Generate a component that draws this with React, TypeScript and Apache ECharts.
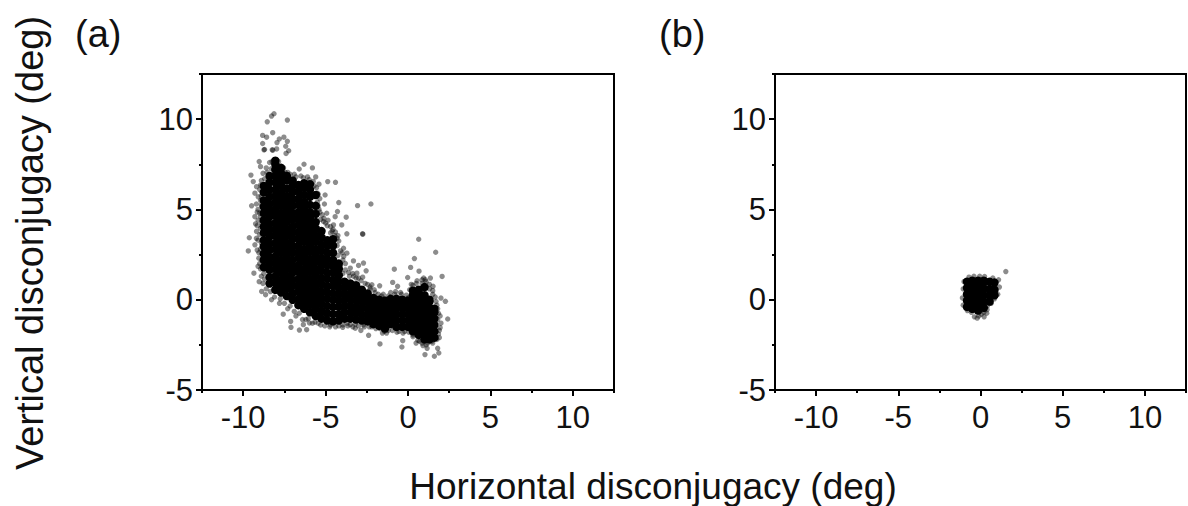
import React, { useEffect, useRef } from "react";
import * as echarts from "echarts";

const majorTicks = [-10, -5, 0, 5, 10];
const minorTicksX = [-12.5, -7.5, -2.5, 2.5, 7.5, 12.5];
const yMajorTicks = [-5, 0, 5, 10];
const yMinorTicks = [-2.5, 2.5, 7.5, 12.5];

// dense body of panel (a): [x, [y...]]
const coreA: [number, number[]][] = [
  [-8.75, [1.8, 2.2, 2.55, 2.95, 3.3, 3.7, 4.05, 4.4, 4.8, 5.15, 5.5, 5.95, 6.3]],
  [-8.4, [0.9, 1.25, 1.65, 2.0, 2.35, 2.75, 3.1, 3.5, 3.85, 4.2, 4.6, 4.95, 5.3, 5.7, 6.1, 6.5, 6.85]],
  [-8.05, [0.55, 0.95, 1.3, 1.7, 2.05, 2.4, 2.8, 3.15, 3.55, 3.9, 4.25, 4.65, 5.0, 5.4, 5.75, 6.1, 6.5, 6.85, 7.2, 7.5, 7.7]],
  [-7.7, [0.4, 0.75, 1.1, 1.5, 1.85, 2.2, 2.6, 2.95, 3.35, 3.7, 4.05, 4.45, 4.8, 5.2, 5.55, 5.9, 6.3, 6.65, 7.0, 7.3]],
  [-7.35, [0.2, 0.6, 0.95, 1.3, 1.7, 2.05, 2.45, 2.8, 3.15, 3.55, 3.9, 4.3, 4.65, 5.0, 5.4, 5.75, 6.15, 6.6, 6.85]],
  [-7.0, [0.0, 0.35, 0.75, 1.1, 1.5, 1.85, 2.2, 2.6, 2.95, 3.35, 3.7, 4.05, 4.45, 4.8, 5.2, 5.55, 5.95, 6.3, 6.6]],
  [-6.65, [-0.3, 0.05, 0.45, 0.8, 1.15, 1.55, 1.9, 2.3, 2.65, 3.0, 3.4, 3.75, 4.15, 4.5, 4.85, 5.25, 5.6, 6.0, 6.35]],
  [-6.3, [-0.5, -0.15, 0.25, 0.6, 0.95, 1.35, 1.7, 2.1, 2.45, 2.8, 3.2, 3.55, 3.95, 4.3, 4.65, 5.05, 5.4, 5.8, 6.2, 6.45]],
  [-5.95, [-0.7, -0.3, 0.05, 0.4, 0.8, 1.15, 1.55, 1.9, 2.25, 2.65, 3.0, 3.4, 3.75, 4.1, 4.5, 4.85, 5.25, 5.7, 6.1, 6.4]],
  [-5.6, [-0.9, -0.5, -0.15, 0.25, 0.6, 0.95, 1.35, 1.7, 2.1, 2.45, 2.8, 3.2, 3.55, 3.95, 4.3, 4.75, 5.2, 5.8]],
  [-5.25, [-1.05, -0.65, -0.25, 0.1, 0.45, 0.85, 1.2, 1.6, 1.95, 2.3, 2.7, 3.05, 3.45, 3.8]],
  [-4.9, [-1.15, -0.75, -0.35, 0.05, 0.4, 0.75, 1.15, 1.5, 1.9, 2.25, 2.6, 3.0, 3.3]],
  [-4.55, [-1.2, -0.8, -0.4, 0.0, 0.35, 0.75, 1.1, 1.5, 1.85, 2.2, 2.6, 3.0, 3.35]],
  [-4.2, [-1.15, -0.8, -0.4, -0.05, 0.3, 0.65, 1.0, 1.35, 1.7, 2.0]],
  [-3.85, [-1.05, -0.7, -0.35, 0.0, 0.35, 0.7, 1.0]],
  [-3.5, [-1.05, -0.7, -0.35, 0.0, 0.3, 0.65, 0.9]],
  [-3.15, [-1.1, -0.75, -0.4, -0.05, 0.3, 0.6, 0.8]],
  [-2.8, [-1.15, -0.8, -0.45, -0.1, 0.2, 0.55]],
  [-2.45, [-1.2, -0.85, -0.5, -0.15, 0.15, 0.35]],
  [-2.1, [-1.35, -1.0, -0.65, -0.3, 0.0, 0.1]],
  [-1.75, [-1.45, -1.1, -0.75, -0.4, -0.1, 0.0]],
  [-1.4, [-1.6, -1.25, -0.9, -0.55, -0.25, -0.05]],
  [-1.05, [-1.35, -1.0, -0.65, -0.3, 0.05]],
  [-0.7, [-1.5, -1.15, -0.8, -0.45, -0.15, 0.05]],
  [-0.35, [-1.5, -1.15, -0.8, -0.45, -0.15, 0.0]],
  [0.0, [-1.5, -1.15, -0.8, -0.45, -0.15, -0.05]],
  [0.3, [-1.75, -1.4, -1.05, -0.7, -0.35, 0.0, 0.25, 0.5]],
  [0.65, [-1.95, -1.6, -1.25, -0.9, -0.55, -0.2, 0.1, 0.35, 0.55]],
  [1.0, [-2.2, -1.85, -1.5, -1.15, -0.8, -0.45, -0.1, 0.25, 0.7]],
  [1.3, [-2.2, -1.85, -1.5, -1.15, -0.8, -0.45, -0.1, 0.0]],
  [1.6, [-2.1, -1.75, -1.4, -1.05, -0.7, -0.5]],
];

// individually visible translucent dots of panel (a)
const scatterA: [number, number][] = [
  [-8.13, 10.3], [-8.28, 10.17], [-8.54, 9.85], [-7.32, 9.95], [-8.82, 9.1], [-8.58, 9.0], [-8.21, 9.25], [-7.81, 8.9], [-7.53, 9.0],
  [-7.32, 8.77], [-7.95, 8.7], [-7.42, 8.5], [-8.74, 8.3], [-8.7, 8.32], [-8.24, 8.3], [-8.2, 8.28], [-8.82, 8.65], [-7.24, 8.25], [-7.4, 8.1], [-7.97, 8.35],
  [-9.03, 7.65], [-8.95, 7.37], [-9.53, 6.9], [-9.39, 6.54], [-9.19, 6.26], [-9.29, 5.9], [-9.49, 5.2], [-9.09, 5.7], [-9.29, 4.6],
  [-9.19, 3.78], [-9.63, 3.43], [-9.69, 2.7], [-9.29, 3.04], [-9.35, 1.47], [-9.03, 1.0], [-8.88, 0.46], [-8.64, 0.28], [-8.28, 0.0],
  [-7.57, -0.8], [-7.12, -1.2], [-7.1, -1.53], [-6.59, -1.68], [-6.15, -1.66], [-6.35, -1.38], [-5.98, -1.29], [-3.96, -1.53], [-3.5, -1.38],
  [-3.2, -1.58], [-2.86, -1.7], [-2.39, -1.97], [-1.7, -2.45], [-1.44, -1.75], [-0.67, -1.8], [-0.32, -2.27], [-0.37, -2.62], [0.49, -2.4],
  [0.91, -2.54], [1.16, -2.69], [1.03, -3.04], [1.6, -3.13], [1.87, -2.95], [1.8, -2.69], [2.41, -1.07], [2.27, -0.09], [2.0, 0.09], [2.07, 1.29],
  [1.68, 2.63], [0.65, 3.35], [0.39, 2.28], [0.16, 1.79], [-0.83, 1.69], [-0.02, 1.23], [0.67, 1.58], [-0.93, 0.96], [-0.63, 0.74], [0.95, 1.2],
  [1.36, 1.2], [1.52, 0.74], [-3.06, 5.21], [-2.25, 5.3], [-2.76, 3.65], [-2.74, 3.63], [-4.4, 6.5], [-4.87, 6.54], [-6.31, 7.5], [-5.8, 7.3], [-5.6, 6.8],
  [-6.6, 7.24], [-4.2, 5.38], [-4.28, 4.88], [-5.03, 5.8], [-5.44, 5.84], [-5.07, 5.3], [-5.54, 4.7], [-4.93, 4.79], [-4.42, 4.6], [-3.75, 4.57],
  [-4.02, 4.14], [-3.71, 3.65], [-4.52, 4.14], [-5.13, 4.33], [-5.23, 3.87], [-3.91, 2.85], [-3.71, 2.58], [-3.31, 2.15], [-3.0, 1.9], [-2.7, 2.03],
  [-2.54, 1.6], [-3.1, 1.47], [-2.19, 0.83], [-1.72, 0.77], [-3.5, 1.75], [-3.9, 2.4],
  [-9.0, 2.0], [-9.05, 2.6], [-9.1, 3.3], [-9.15, 4.1], [-9.0, 4.8], [-9.2, 5.3], [-9.0, 6.1], [-8.9, 6.6], [-8.8, 7.0], [-8.6, 7.3], [-8.4, 7.6], [-8.9, 1.3], [-8.8, 0.9],
  [-9.05, 2.3], [-9.0, 3.6], [-9.1, 4.4], [-9.1, 5.0], [-8.95, 5.5], [-8.8, 6.3], [-7.7, 7.4], [-7.3, 7.05], [-6.9, 6.95], [-6.5, 6.85], [-6.1, 6.8], [-5.7, 6.3], [-5.5, 5.9],
  [-7.8, -0.2], [-7.3, -0.5], [-6.8, -0.9], [-6.4, -1.1], [-5.8, -1.3], [-5.3, -1.4], [-4.7, -1.4], [-4.2, -1.45], [-3.7, -1.3], [-3.2, -1.35], [-2.7, -1.4], [-2.2, -1.5],
  [-1.7, -1.6], [-1.2, -1.7], [-0.7, -1.6], [-0.2, -1.75], [0.3, -1.95], [0.7, -2.3], [1.1, -2.5], [1.5, -2.4], [1.9, -2.1], [1.9, -1.7], [2.0, -1.3], [1.95, -0.9], [1.8, -0.5],
  [1.7, -0.1], [1.5, 0.3], [1.3, 0.6], [1.1, 1.0], [0.85, 1.1], [0.5, 0.9], [0.3, 0.8], [-5.4, 5.0], [-5.2, 4.7], [-4.9, 4.1], [-4.6, 3.8], [-4.3, 3.4], [-4.0, 2.6], [-3.8, 2.0],
  [-3.6, 1.5], [-3.3, 1.3], [-3.0, 1.2], [-2.6, 0.9], [-2.3, 0.6], [-2.0, 0.4], [-1.6, 0.2], [-1.2, 0.2], [-0.8, 0.3], [-0.4, 0.3], [0.0, 0.1], [-5.5, 5.4],
  [-8.95, 1.7], [-8.85, 2.15], [-8.95, 2.8], [-8.9, 3.15], [-8.95, 3.95], [-8.9, 4.25], [-8.95, 4.6], [-8.9, 5.25], [-8.9, 5.75], [-8.95, 6.35], [-8.7, 6.7], [-8.55, 7.05], [-8.3, 7.25], [-8.25, 7.65],
  [-7.85, 7.65], [-7.55, 7.3], [-7.45, 7.05], [-7.15, 6.95], [-6.8, 6.8], [-6.35, 6.75], [-6.0, 6.65], [-5.75, 6.55], [-5.55, 6.2], [-5.4, 6.4], [-5.35, 5.6], [-5.45, 5.2], [-5.35, 4.85], [-5.3, 4.45],
  [-5.1, 4.5], [-5.0, 4.25], [-4.85, 4.4], [-4.7, 4.05], [-4.55, 3.9], [-4.4, 3.75], [-4.25, 3.55], [-4.7, 3.7], [-4.45, 3.55], [-4.2, 3.25], [-4.3, 3.0], [-4.1, 2.7], [-4.25, 2.45], [-3.95, 2.2],
  [-4.1, 1.85], [-3.8, 1.65], [-3.95, 1.45], [-3.55, 1.3], [-3.35, 1.45], [-3.15, 1.2], [-2.85, 1.05], [-2.75, 1.25], [-2.45, 0.85], [-2.3, 0.7], [-2.05, 0.55], [-1.8, 0.3], [-1.5, 0.3], [-1.05, 0.4],
  [-0.75, 0.45], [-0.45, 0.4], [-0.1, 0.25], [0.1, 0.55], [0.2, 0.85], [0.55, 1.05], [0.85, 0.9], [1.05, 1.1], [1.3, 0.85], [1.5, 0.5], [1.65, 0.15], [1.75, -0.3], [1.85, -0.75], [1.8, -1.1], [1.95, -1.55],
  [1.85, -1.9], [1.75, -2.2], [1.45, -2.3], [1.2, -2.4], [0.85, -2.4], [0.6, -2.25], [0.3, -2.05], [0.05, -1.8], [-0.3, -1.85], [-0.55, -1.75], [-0.95, -1.7], [-1.3, -1.85], [-1.55, -1.85], [-1.95, -1.6],
  [-2.35, -1.5], [-2.65, -1.5], [-3.0, -1.45], [-3.35, -1.5], [-3.65, -1.45], [-3.95, -1.4], [-4.4, -1.5], [-4.75, -1.5], [-5.05, -1.45], [-5.45, -1.3], [-5.65, -1.25], [-6.05, -1.05], [-6.2, -1.1], [-6.6, -0.75],
  [-6.9, -0.65], [-7.15, -0.35], [-7.5, -0.2], [-7.75, 0.05], [-8.1, 0.15], [-8.35, 0.45], [-8.6, 0.6], [-8.7, 1.15], [-8.75, 1.45], [-9.1, 1.85], [-9.15, 2.75], [-9.2, 3.4], [-9.25, 4.2], [-9.15, 4.85],
];

// dense body of panel (b)
const coreB: [number, number[]][] = [
  [-0.82, [-0.4, -0.05, 0.3, 0.65, 1.0]],
  [-0.5, [-0.5, -0.15, 0.2, 0.55, 0.9, 1.05]],
  [-0.15, [-0.6, -0.25, 0.1, 0.45, 0.8, 1.05]],
  [0.2, [-0.45, -0.1, 0.25, 0.6, 0.95, 1.05]],
  [0.55, [-0.1, 0.25, 0.6, 1.0]],
  [0.85, [0.25, 0.55, 0.95]],
];

const scatterB: [number, number][] = [
  [1.54, 1.56], [-0.4, 1.3], [-0.05, 1.3], [0.25, 1.28], [0.75, 1.2], [1.1, 1.1], [1.15, 0.7], [1.05, 0.3], [0.85, 0.05], [0.65, -0.2],
  [0.42, -0.35], [0.4, -0.55], [0.38, -0.75], [0.2, -0.7], [0.22, -0.95], [-0.1, -0.9], [-0.37, -0.95], [-0.2, -1.02], [0.05, -0.8], [-0.55, -0.7],
  [-0.8, -0.6], [-1.05, -0.3], [-1.1, 0.1], [-1.05, 0.6], [-1.0, 1.0], [-0.7, 1.25],
];

const expand = (rows: [number, number[]][]) => rows.flatMap(([x, ys]) => ys.map((y) => [x, y]));

const FONT = '"Liberation Sans", Arial, sans-serif';

const axes = (gridIndex: number) => {
  const line = { show: true, onZero: false, lineStyle: { color: "#000", width: 2 } };
  const xA = {
    type: "value", gridIndex, min: -12.5, max: 12.5, position: "bottom", axisLine: line, splitLine: { show: false },
    axisTick: { show: true, length: 6, lineStyle: { color: "#000", width: 2 }, customValues: majorTicks },
    axisLabel: { show: true, customValues: majorTicks, color: "#111", fontFamily: FONT, fontSize: 31, margin: 12 },
  };
  const xB = {
    type: "value", gridIndex, min: -12.5, max: 12.5, position: "bottom", axisLine: line, splitLine: { show: false },
    axisTick: { show: true, length: 3, lineStyle: { color: "#000", width: 2 }, customValues: minorTicksX },
    axisLabel: { show: false },
  };
  const yA = {
    type: "value", gridIndex, min: -5, max: 12.5, position: "left", axisLine: line, splitLine: { show: false },
    axisTick: { show: true, length: 6, lineStyle: { color: "#000", width: 2 }, customValues: yMajorTicks },
    axisLabel: { show: true, customValues: yMajorTicks, color: "#111", fontFamily: FONT, fontSize: 31, margin: 9 },
  };
  const yB = {
    type: "value", gridIndex, min: -5, max: 12.5, position: "left", axisLine: line, splitLine: { show: false },
    axisTick: { show: true, length: 3, lineStyle: { color: "#000", width: 2 }, customValues: yMinorTicks },
    axisLabel: { show: false },
  };
  return { x: [xA, xB], y: [yA, yB] };
};

export default function App() {
  const ref = useRef<HTMLDivElement>(null);
  useEffect(() => {
    document.body.style.margin = "0";
    const chart = echarts.init(ref.current!, undefined, { renderer: "svg" });
    const a0 = axes(0);
    const a1 = axes(1);
    const core = (xAxisIndex: number, yAxisIndex: number, data: number[][]) => ({
      type: "scatter", xAxisIndex, yAxisIndex, data, symbolSize: 8.5, silent: true,
      itemStyle: { color: "#000", opacity: 1 },
    });
    const dots = (xAxisIndex: number, yAxisIndex: number, data: number[][]) => ({
      type: "scatter", xAxisIndex, yAxisIndex, data, symbolSize: 5.4, silent: true,
      itemStyle: { color: "#000", opacity: 0.45 },
    });
    chart.setOption({
      animation: false,
      backgroundColor: "#fff",
      grid: [
        { left: 202, top: 74, width: 412, height: 316, show: true, borderColor: "#000", borderWidth: 2, backgroundColor: "transparent" },
        { left: 775, top: 74, width: 411, height: 316, show: true, borderColor: "#000", borderWidth: 2, backgroundColor: "transparent" },
      ],
      xAxis: [...a0.x, ...a1.x],
      yAxis: [...a0.y, ...a1.y],
      series: [
        dots(0, 0, scatterA),
        core(0, 0, expand(coreA)),
        dots(2, 2, scatterB),
        core(2, 2, expand(coreB)),
      ],
      graphic: [
        { type: "text", x: 75, y: 15, style: { text: "(a)", font: `38px ${FONT}`, fill: "#111" } },
        { type: "text", x: 659, y: 15, style: { text: "(b)", font: `38px ${FONT}`, fill: "#111" } },
        { type: "text", x: 653, y: 468, style: { text: "Horizontal disconjugacy (deg)", font: `37px ${FONT}`, fill: "#111", textAlign: "center" } },
        { type: "text", x: 30, y: 243, rotation: Math.PI / 2, style: { text: "Vertical disconjugacy (deg)", font: `38px ${FONT}`, fill: "#111", textAlign: "center", textVerticalAlign: "middle" } },
      ],
    });
    return () => chart.dispose();
  }, []);
  return <div ref={ref} style={{ position: "absolute", left: 0, top: 0, width: 1188, height: 506 }} />;
}
